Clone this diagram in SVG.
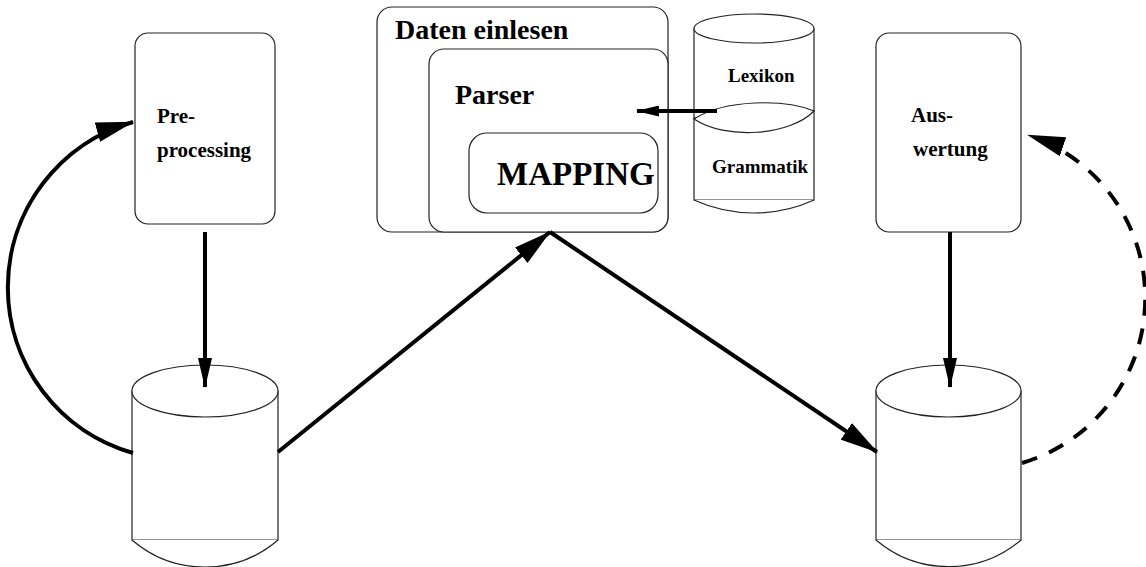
<svg xmlns="http://www.w3.org/2000/svg" width="1146" height="567" viewBox="0 0 1146 567">
  <style>
    .box { fill: #fff; stroke: #222; stroke-width: 1.2; }
    .cyl { fill: #fff; stroke: #222; stroke-width: 1.2; }
    .chord { fill: none; stroke: #999; stroke-width: 1.2; }
    .lbl { font-family: "Liberation Serif", "Times New Roman", serif; font-weight: bold; fill: #000; }
    .edge { fill: none; stroke: #000; stroke-width: 4; }
    .dash { stroke-dasharray: 16 13; }
  </style>
  <defs>
    <marker id="headL" markerUnits="userSpaceOnUse" viewBox="0 0 38 20" markerWidth="38" markerHeight="20" refX="37" refY="10" orient="auto">
      <path d="M0,0 L38,10 L0,20 Z" fill="#000"/>
    </marker>
    <marker id="headM" markerUnits="userSpaceOnUse" viewBox="0 0 30 14" markerWidth="30" markerHeight="14" refX="29" refY="7" orient="auto">
      <path d="M0,0 L30,7 L0,14 Z" fill="#000"/>
    </marker>
    <marker id="headS" markerUnits="userSpaceOnUse" viewBox="0 0 23 11" markerWidth="23" markerHeight="11" refX="22" refY="5.5" orient="auto">
      <path d="M0,0 L23,5.5 L0,11 Z" fill="#000"/>
    </marker>
  </defs>

  <!-- Preprocessing step -->
  <g id="preprocessing">
    <rect class="box" x="135" y="33" width="140" height="191" rx="13" ry="13"/>
    <text class="lbl" x="157" y="123" font-size="21">Pre-</text>
    <text class="lbl" x="157" y="157" font-size="21">processing</text>
  </g>

  <!-- Data reading with nested parser and mapping -->
  <g id="daten-einlesen">
    <rect class="box" x="377" y="7" width="291" height="225" rx="15" ry="15"/>
    <text class="lbl" x="395" y="39" font-size="28">Daten einlesen</text>
  </g>
  <g id="parser">
    <rect class="box" x="429" y="49" width="239" height="183" rx="15" ry="15"/>
    <text class="lbl" x="455" y="104" font-size="28">Parser</text>
  </g>
  <g id="mapping">
    <rect class="box" x="469" y="133" width="189" height="80" rx="18" ry="18"/>
    <text class="lbl" x="497" y="185" font-size="33">MAPPING</text>
  </g>

  <!-- Stacked resource cylinders -->
  <g id="grammatik">
    <path class="cyl" d="M694,118 L694,200 L814,200 L814,111 Z"/>
    <line class="chord" x1="694" y1="200" x2="814" y2="200"/>
    <path class="cyl" d="M694,200 A145,145 0 0 0 814,200"/>
    <text class="lbl" x="712" y="173" font-size="19">Grammatik</text>
  </g>
  <g id="lexikon">
    <path class="cyl" d="M694,28.5 L694,118 L814,111 L814,28.5"/>
    <ellipse class="cyl" cx="754" cy="28.5" rx="60" ry="14.5"/>
    <path class="cyl" d="M694,119 C725,99 785,99 814,111 C790,136 725,140 694,119 Z"/>
    <text class="lbl" x="728" y="82" font-size="19">Lexikon</text>
  </g>

  <!-- Evaluation step -->
  <g id="auswertung">
    <rect class="box" x="876" y="33" width="145" height="199" rx="13" ry="13"/>
    <text class="lbl" x="911" y="122" font-size="21">Aus-</text>
    <text class="lbl" x="913" y="156" font-size="21">wertung</text>
  </g>

  <!-- Input data store -->
  <g id="db-input">
    <path class="cyl" d="M132,391 L132,540 L278,540 L278,391 Z"/>
    <line class="chord" x1="132" y1="540" x2="278" y2="540"/>
    <path class="cyl" d="M132,540 A112,112 0 0 0 278,540"/>
    <ellipse class="cyl" cx="205" cy="391" rx="73" ry="26"/>
  </g>

  <!-- Output data store -->
  <g id="db-output">
    <path class="cyl" d="M876,391 L876,540 L1021,540 L1021,391 Z"/>
    <line class="chord" x1="876" y1="540" x2="1021" y2="540"/>
    <path class="cyl" d="M876,540 A112,112 0 0 0 1021,540"/>
    <ellipse class="cyl" cx="948.5" cy="391" rx="72.5" ry="26"/>
  </g>

  <!-- Connectors -->
  <g id="connectors">
    <path class="edge" d="M205,232 L205,387" marker-end="url(#headM)"/>
    <path class="edge" d="M950,232 L950,387" marker-end="url(#headM)"/>
    <path class="edge" d="M133,453 A172,172 0 0 1 133,122" marker-end="url(#headL)"/>
    <path class="edge" d="M278,452 L550,232" marker-end="url(#headL)"/>
    <path class="edge" d="M550,232 L877,452" marker-end="url(#headL)"/>
    <path class="edge" d="M717,111 L637,111" marker-end="url(#headS)"/>
    <path class="edge dash" d="M1022,463 A172,172 0 0 0 1028,135" marker-end="url(#headL)"/>
  </g>
</svg>
